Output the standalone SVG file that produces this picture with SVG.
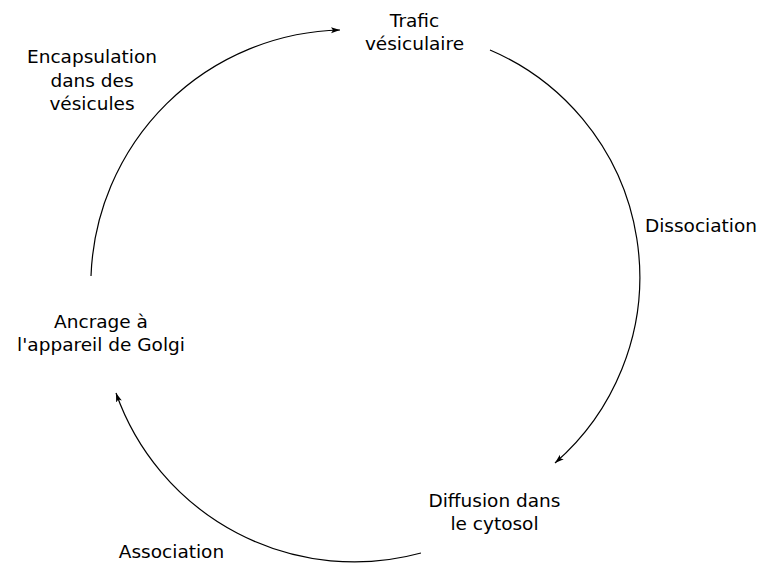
<svg xmlns="http://www.w3.org/2000/svg" width="762" height="565" viewBox="0 0 762 565">
<defs>
<style>
.t{font-family:"DejaVu Sans",sans-serif;font-size:18.5px;fill:#000;text-anchor:middle}
.c{fill:none;stroke:#000;stroke-width:1.2}
</style>
<marker id="ah" markerWidth="10" markerHeight="8" refX="9" refY="4" orient="auto" markerUnits="userSpaceOnUse">
<path d="M0,1 L9,4 L0,7 L2,4 Z" fill="#000"/>
</marker>
</defs>
<rect width="762" height="565" fill="#fff"/>
<g id="connectors">
<path class="c" d="M490,50 A246.7,246.7 0 0 1 555,463" marker-end="url(#ah)"/>
<path class="c" d="M421,553 A252.7,252.7 0 0 1 116,393" marker-end="url(#ah)"/>
<path class="c" d="M91,276 A255.4,255.4 0 0 1 340,30" marker-end="url(#ah)"/>
</g>
<g id="trafic"><text class="t" x="414.5" y="27">Trafic</text><text class="t" x="414.5" y="50">vésiculaire</text></g>
<g id="dissociation"><text class="t" x="701" y="232">Dissociation</text></g>
<g id="diffusion"><text class="t" x="494.5" y="507">Diffusion dans</text><text class="t" x="494.5" y="530">le cytosol</text></g>
<g id="association"><text class="t" x="171.5" y="558">Association</text></g>
<g id="ancrage"><text class="t" x="101" y="328">Ancrage à</text><text class="t" x="101" y="351">l'appareil de Golgi</text></g>
<g id="encapsulation"><text class="t" x="92" y="63">Encapsulation</text><text class="t" x="92" y="86.5">dans des</text><text class="t" x="92" y="110">vésicules</text></g>
</svg>
